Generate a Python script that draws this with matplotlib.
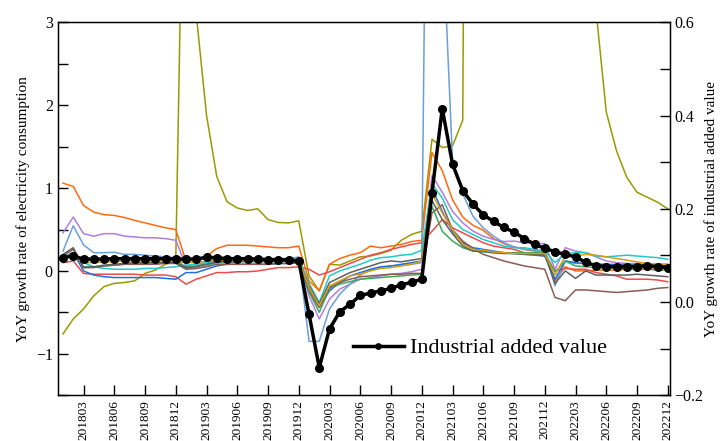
import numpy as np
import matplotlib
matplotlib.use("Agg")
import matplotlib.pyplot as plt
from matplotlib.ticker import MultipleLocator

plt.rcParams['font.family'] = ['Liberation Serif', 'DejaVu Serif']

# months 201801 .. 202212
months = [f"{y}{m:02d}" for y in range(2018, 2023) for m in range(1, 13)]
tick_labels = months[2::3]

# YoY growth rate of electricity consumption (left axis), one list per region
orange = [1.06, 1.02, 0.79, 0.71, 0.68, 0.67, 0.645, 0.61, 0.58, 0.55, 0.52, 0.50,
          0.12, 0.13, 0.18, 0.27, 0.31, 0.31, 0.31, 0.30, 0.29, 0.28, 0.28, 0.30,
          -0.12, -0.24, 0.08, 0.15, 0.19, 0.22, 0.30, 0.28, 0.30, 0.32, 0.355, 0.37,
          1.43, 1.21, 0.86, 0.65, 0.55, 0.49, 0.39, 0.33, 0.29, 0.26, 0.24, 0.22,
          -0.12, 0.05, 0.0, 0.0, 0.01, 0.01, 0.01, 0.02, 0.02, 0.02, 0.03, 0.03]
purple = [0.46, 0.65, 0.45, 0.42, 0.45, 0.45, 0.42, 0.41, 0.40, 0.40, 0.39, 0.37,
          0.06, 0.05, 0.11, 0.13, 0.13, 0.12, 0.12, 0.12, 0.12, 0.12, 0.13, 0.13,
          -0.30, -0.58, -0.34, -0.22, -0.16, -0.10, -0.08, -0.06, -0.04, -0.03, -0.01, 0.02,
          1.15, 0.95, 0.72, 0.58, 0.48, 0.42, 0.38, 0.355, 0.36, 0.34, 0.33, 0.33,
          0.02, 0.28, 0.24, 0.22, 0.17, 0.12, 0.10, 0.09, 0.09, 0.08, 0.08, 0.08]
lightblue = [0.24, 0.545, 0.315, 0.22, 0.22, 0.225, 0.20, 0.20, 0.19, 0.18, 0.17, 0.16,
             0.03, 0.03, 0.06, 0.10, 0.11, 0.12, 0.12, 0.12, 0.12, 0.13, 0.14, 0.17,
             -0.85, -0.85, -0.46, -0.28, -0.16, -0.05, 0.01, 0.04, 0.06, 0.07, 0.08, 0.10,
             12.0, 4.2, 1.33, 0.93, 0.66, 0.52, 0.42, 0.34, 0.29, 0.26, 0.25, 0.24,
             -0.18, 0.12, 0.09, 0.09, 0.08, 0.08, 0.08, 0.08, 0.07, 0.07, 0.07, 0.07]
red = [0.10, 0.12, -0.03, -0.04, -0.04, -0.04, -0.04, -0.04, -0.05, -0.05, -0.05, -0.07,
       -0.16, -0.10, -0.06, -0.02, -0.02, -0.01, -0.01, 0.0, 0.02, 0.04, 0.04, 0.05,
       0.02, -0.05, -0.01, 0.04, 0.09, 0.14, 0.19, 0.22, 0.26, 0.29, 0.32, 0.34,
       0.48, 0.62, 0.52, 0.46, 0.40, 0.34, 0.30, 0.28, 0.26, 0.22, 0.20, 0.18,
       0.0, 0.03, 0.02, 0.02, -0.02, -0.04, -0.06, -0.10, -0.10, -0.10, -0.11, -0.13]
blue = [0.16, 0.22, 0.0, -0.05, -0.07, -0.08, -0.08, -0.08, -0.08, -0.08, -0.09, -0.10,
        -0.02, -0.02, 0.02, 0.06, 0.08, 0.08, 0.08, 0.08, 0.08, 0.09, 0.09, 0.10,
        -0.25, -0.44, -0.24, -0.14, -0.06, -0.02, 0.02, 0.05, 0.06, 0.08, 0.10, 0.12,
        1.0, 0.72, 0.48, 0.34, 0.28, 0.26, 0.24, 0.22, 0.21, 0.20, 0.19, 0.18,
        -0.10, 0.12, 0.10, 0.09, 0.08, 0.08, 0.07, 0.07, 0.07, 0.06, 0.06, 0.06]
cyan = [0.16, 0.22, 0.10, 0.05, 0.03, 0.02, 0.02, 0.02, 0.03, 0.03, 0.04, 0.05,
        0.07, 0.08, 0.10, 0.12, 0.13, 0.13, 0.13, 0.14, 0.14, 0.15, 0.15, 0.16,
        -0.15, -0.38, -0.06, 0.0, 0.04, 0.08, 0.13, 0.16, 0.17, 0.19, 0.20, 0.25,
        1.05, 0.88, 0.62, 0.50, 0.44, 0.38, 0.34, 0.30, 0.28, 0.28, 0.26, 0.24,
        0.10, 0.21, 0.22, 0.22, 0.18, 0.17, 0.18, 0.19, 0.18, 0.17, 0.16, 0.14]
green = [0.12, 0.22, 0.05, 0.05, 0.06, 0.07, 0.08, 0.09, 0.09, 0.10, 0.10, 0.10,
         0.05, 0.06, 0.08, 0.10, 0.10, 0.11, 0.11, 0.11, 0.11, 0.11, 0.12, 0.12,
         -0.25, -0.50, -0.21, -0.16, -0.13, -0.10, -0.09, -0.08, -0.07, -0.06, -0.05, -0.04,
         0.78, 0.48, 0.36, 0.28, 0.24, 0.23, 0.22, 0.22, 0.22, 0.22, 0.22, 0.22,
         -0.01, 0.12, 0.06, 0.05, 0.04, 0.03, 0.03, 0.02, 0.02, 0.02, 0.01, 0.01]
brown = [0.18, 0.26, 0.04, 0.04, 0.06, 0.07, 0.08, 0.08, 0.08, 0.08, 0.09, 0.09,
         0.02, 0.03, 0.05, 0.08, 0.08, 0.08, 0.08, 0.08, 0.08, 0.09, 0.09, 0.10,
         -0.22, -0.44, -0.20, -0.14, -0.10, -0.07, -0.06, -0.05, -0.04, -0.04, -0.03, -0.03,
         0.70, 0.80, 0.50, 0.36, 0.27, 0.20, 0.16, 0.12, 0.09, 0.06, 0.04, 0.02,
         -0.32, -0.36, -0.23, -0.23, -0.24, -0.25, -0.26, -0.25, -0.24, -0.23, -0.21, -0.20]
gray = [0.20, 0.28, 0.04, 0.05, 0.07, 0.08, 0.09, 0.10, 0.10, 0.10, 0.10, 0.10,
        0.04, 0.05, 0.08, 0.11, 0.12, 0.12, 0.12, 0.12, 0.12, 0.12, 0.12, 0.13,
        -0.18, -0.40, -0.14, -0.08, -0.02, 0.02, 0.06, 0.10, 0.12, 0.11, 0.13, 0.15,
        0.85, 0.62, 0.45, 0.30, 0.24, 0.24, 0.22, 0.21, 0.21, 0.20, 0.20, 0.20,
        -0.15, 0.0, -0.09, 0.0, -0.05, -0.05, -0.05, -0.05, -0.04, -0.05, -0.06, -0.07]
gold = [0.14, 0.20, 0.10, 0.10, 0.11, 0.11, 0.12, 0.12, 0.12, 0.12, 0.12, 0.12,
        0.10, 0.10, 0.12, 0.13, 0.13, 0.13, 0.13, 0.13, 0.13, 0.13, 0.13, 0.14,
        -0.20, -0.42, -0.18, -0.12, -0.06, -0.04, 0.0, 0.03, 0.04, 0.06, 0.08, 0.12,
        0.93, 0.70, 0.50, 0.32, 0.26, 0.25, 0.23, 0.22, 0.21, 0.21, 0.21, 0.21,
        -0.05, 0.18, 0.18, 0.20, 0.19, 0.17, 0.15, 0.13, 0.11, 0.09, 0.08, 0.08]
olive = [-0.76, -0.58, -0.46, -0.30, -0.19, -0.15, -0.14, -0.12, -0.03, 0.01, 0.08, 0.13,
         7.0, 3.1, 1.88, 1.14, 0.835, 0.76, 0.73, 0.75, 0.62, 0.585, 0.58, 0.605,
         -0.06, -0.24, 0.08, 0.07, 0.12, 0.17, 0.18, 0.21, 0.25, 0.37, 0.44, 0.48,
         1.59, 1.49, 1.51, 1.82, 24.0, 14.0, 11.0, 9.0, 8.0, 7.0, 6.0, 5.5,
         5.0, 4.5, 4.0, 3.6, 3.15, 1.92, 1.45, 1.13, 0.95, 0.89, 0.83, 0.75]

# YoY growth rate of industrial added value (right axis)
industrial = [0.095, 0.099, 0.092, 0.092, 0.092, 0.093, 0.093, 0.093, 0.093, 0.093, 0.093, 0.092,
              0.092, 0.092, 0.096, 0.095, 0.093, 0.093, 0.093, 0.092, 0.091, 0.091, 0.090, 0.088,
              -0.026, -0.141, -0.058, -0.021, -0.005, 0.014, 0.019, 0.024, 0.029, 0.037, 0.042, 0.049,
              0.235, 0.415, 0.296, 0.239, 0.210, 0.187, 0.173, 0.160, 0.150, 0.136, 0.124, 0.115,
              0.108, 0.102, 0.097, 0.085, 0.078, 0.076, 0.076, 0.076, 0.076, 0.078, 0.076, 0.074]

series = [
    (olive, '#9a9a00'),
    (orange, '#ff6a10'),
    (purple, '#b07ee0'),
    (lightblue, '#6a9fd8'),
    (red, '#ef4a4a'),
    (blue, '#2070e0'),
    (cyan, '#22c8c8'),
    (green, '#3aaa5c'),
    (brown, '#8c5a5a'),
    (gray, '#5f5f5f'),
    (gold, '#d4a010'),
]

x = np.arange(len(months))

fig = plt.figure(figsize=(7.21, 4.41), dpi=100)
ax = fig.add_axes([0.08, 0.104, 0.849, 0.845])

for vals, col in series:
    ax.plot(x, vals, color=col, lw=1.1)

ax.set_xlim(-0.52, 59.2)
ax.set_ylim(-1.5, 3)
ax.yaxis.set_major_locator(MultipleLocator(1))
ax.yaxis.set_minor_locator(MultipleLocator(0.5))
ax.set_xticks(x[2::3])
ax.set_xticklabels(tick_labels, rotation=90, fontsize=9.5)
ax.tick_params(axis='both', which='both', direction='in', length=7, width=1)
ax.tick_params(axis='y', labelsize=11.5)
ax.set_ylabel('YoY growth rate of electricity consumption', fontsize=11)
for s in ax.spines.values():
    s.set_linewidth(1.0)

ax2 = ax.twinx()
ax2.plot(x, industrial, color='black', lw=2.5, marker='o', markersize=5.5,
         label='Industrial added value')
ax2.set_ylim(-0.2, 0.6)
ax2.yaxis.set_major_locator(MultipleLocator(0.2))
ax2.yaxis.set_minor_locator(MultipleLocator(0.1))
ax2.tick_params(axis='y', which='both', direction='in', length=7, width=1,
                labelsize=11.5, pad=3)
ax2.set_ylabel('YoY growth rate of industrial added value', fontsize=11, labelpad=1)
ax2.legend(loc='center', bbox_to_anchor=(0.69, 0.126), frameon=False, fontsize=16,
           handlelength=2.3, handletextpad=0.3, markerscale=0.7)

fig.savefig('out.png', dpi=100)
